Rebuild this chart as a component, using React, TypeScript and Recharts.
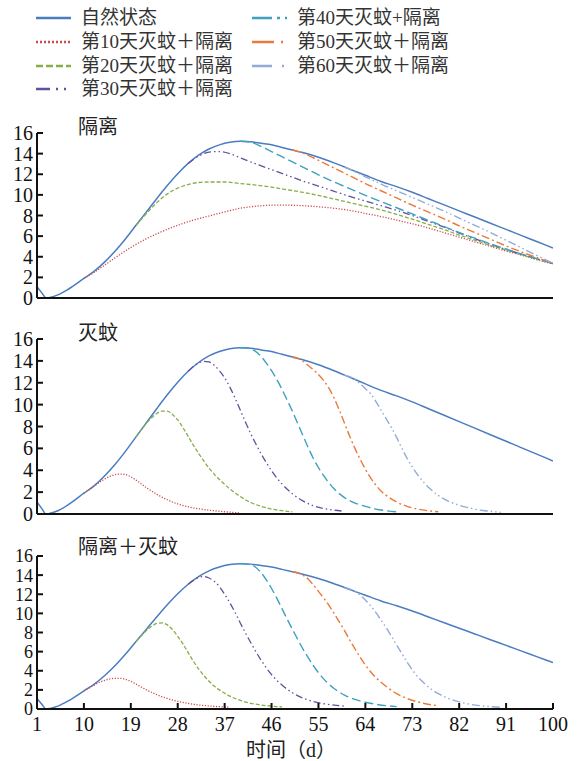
import React from 'react';
import { LineChart, Line, XAxis, YAxis } from 'recharts';

const xTicks = [1, 10, 19, 28, 37, 46, 55, 64, 73, 82, 91, 100];
const yTicks = [0, 2, 4, 6, 8, 10, 12, 14, 16];
const seriesNames = ['自然状态', '第10天灭蚊＋隔离', '第20天灭蚊＋隔离', '第30天灭蚊＋隔离', '第40天灭蚊+隔离', '第50天灭蚊＋隔离', '第60天灭蚊＋隔离'];
const panelTitles = ['隔离', '灭蚊', '隔离＋灭蚊'];
const xLabel = '时间（d）';

type Pt = [number, number];

// natural state, shared by all three panels  [day, value]
const natural: Pt[] = [
  [1, 1.1], [2, 0.45], [2.7, 0], [3.5, 0.06], [5, 0.3], [7, 0.85], [10, 1.9], [12, 2.6], [14, 3.5], [16, 4.55],
  [18, 5.75], [20, 7.05], [22, 8.35], [24, 9.65], [26, 10.9], [28, 12.05], [30, 13.05], [32, 13.85], [34, 14.45],
  [36, 14.85], [38, 15.1], [40, 15.2], [42, 15.15], [44, 15.0], [46, 14.85], [48, 14.6], [50, 14.35], [52, 14.1],
  [55, 13.65], [58, 13.1], [61, 12.5], [64, 11.9], [67, 11.3], [70, 10.8], [73, 10.25], [76, 9.65], [79, 9.05],
  [82, 8.45], [85, 7.85], [88, 7.25], [91, 6.65], [94, 6.05], [97, 5.45], [100, 4.85],
];

// panel 1: isolation
const iso10: Pt[] = [
  [10, 1.9], [12, 2.5], [14, 3.2], [16, 3.9], [19, 4.9], [22, 5.75], [25, 6.45], [28, 7.05], [31, 7.55], [34, 7.95],
  [37, 8.35], [40, 8.7], [43, 8.9], [46, 9.0], [49, 9.0], [52, 8.95], [55, 8.85], [58, 8.7], [61, 8.5], [64, 8.2],
  [67, 7.9], [70, 7.55], [73, 7.2], [76, 6.8], [79, 6.35], [82, 5.9], [85, 5.45], [88, 5.0], [91, 4.55], [94, 4.15],
  [97, 3.7], [100, 3.3],
];
const iso20: Pt[] = [
  [20, 7.05], [22, 8.2], [24, 9.25], [26, 10.1], [28, 10.65], [30, 11.0], [32, 11.2], [34, 11.25], [37, 11.25],
  [40, 11.1], [43, 10.95], [46, 10.75], [49, 10.5], [52, 10.25], [55, 9.95], [58, 9.6], [61, 9.25], [64, 8.9],
  [67, 8.55], [70, 8.1], [73, 7.65], [76, 7.15], [79, 6.65], [82, 6.1], [85, 5.6], [88, 5.1], [91, 4.65], [94, 4.2],
  [97, 3.75], [100, 3.35],
];
const iso30: Pt[] = [
  [30, 13.05], [32, 13.75], [34, 14.15], [36, 14.2], [38, 14.0], [40, 13.6], [43, 13.0], [46, 12.45], [49, 11.9],
  [52, 11.35], [55, 10.85], [58, 10.35], [61, 9.85], [64, 9.4], [67, 8.95], [70, 8.5], [73, 8.0], [76, 7.45],
  [79, 6.9], [82, 6.3], [85, 5.75], [88, 5.2], [91, 4.7], [94, 4.25], [97, 3.8], [100, 3.35],
];
const iso40: Pt[] = [
  [40, 15.2], [42, 15.1], [44, 14.7], [46, 14.2], [48, 13.7], [50, 13.2], [52, 12.7], [55, 11.95], [58, 11.25],
  [61, 10.6], [64, 9.95], [67, 9.35], [70, 8.75], [73, 8.15], [76, 7.55], [79, 6.95], [82, 6.35], [85, 5.8],
  [88, 5.25], [91, 4.75], [94, 4.25], [97, 3.8], [100, 3.35],
];
const iso50: Pt[] = [
  [50, 14.35], [52, 14.05], [54, 13.6], [56, 13.1], [58, 12.6], [61, 11.85], [64, 11.1], [67, 10.4], [70, 9.7],
  [73, 9.0], [76, 8.35], [79, 7.7], [82, 7.0], [85, 6.35], [88, 5.7], [91, 5.05], [94, 4.45], [97, 3.9], [100, 3.35],
];
const iso60: Pt[] = [
  [60, 12.7], [62, 12.25], [64, 11.75], [67, 11.05], [70, 10.4], [73, 9.75], [76, 9.1], [79, 8.45], [82, 7.75],
  [85, 7.05], [88, 6.35], [91, 5.6], [94, 4.85], [97, 4.1], [100, 3.35],
];

// panel 2: mosquito control
const mos10: Pt[] = [
  [10, 1.9], [12, 2.55], [13, 2.9], [14, 3.2], [15, 3.45], [16, 3.6], [17, 3.65], [18, 3.6], [19, 3.4], [20, 3.1],
  [22, 2.4], [24, 1.8], [26, 1.3], [28, 0.92], [30, 0.66], [32, 0.48], [34, 0.35], [36, 0.25], [38, 0.17], [40, 0.1],
];
const mos20: Pt[] = [
  [20, 7.05], [21, 7.7], [22, 8.3], [23, 8.8], [24, 9.2], [25, 9.4], [26, 9.4], [27, 9.1], [28, 8.6], [29, 7.9],
  [30, 7.1], [31, 6.3], [32, 5.55], [33, 4.85], [34, 4.2], [35, 3.65], [36, 3.15], [38, 2.3], [40, 1.6], [42, 1.05],
  [44, 0.7], [46, 0.45], [48, 0.3], [50, 0.2],
];
const mos30: Pt[] = [
  [30, 13.05], [31, 13.5], [32, 13.8], [33, 13.95], [34, 13.9], [35, 13.6], [36, 13.1], [37, 12.45], [38, 11.6],
  [39, 10.6], [40, 9.5], [41, 8.4], [42, 7.35], [43, 6.4], [44, 5.5], [45, 4.7], [46, 3.95], [47, 3.3], [48, 2.75],
  [50, 1.85], [52, 1.2], [54, 0.75], [56, 0.5], [58, 0.35], [60, 0.25],
];
const mos40: Pt[] = [
  [40, 15.2], [41, 15.2], [42, 15.1], [43, 14.85], [44, 14.4], [45, 13.8], [46, 13.1], [47, 12.3], [48, 11.4],
  [49, 10.4], [50, 9.4], [51, 8.3], [52, 7.2], [53, 6.1], [54, 5.1], [55, 4.25], [56, 3.5], [57, 2.85], [58, 2.3],
  [60, 1.5], [62, 1.0], [64, 0.7], [66, 0.45], [68, 0.3], [70, 0.2],
];
const mos50: Pt[] = [
  [50, 14.35], [51, 14.25], [52, 14.0], [53, 13.6], [54, 13.2], [55, 12.75], [56, 12.2], [57, 11.5], [58, 10.6],
  [59, 9.5], [60, 8.3], [61, 7.1], [62, 6.0], [63, 5.0], [64, 4.1], [65, 3.3], [66, 2.65], [67, 2.1], [68, 1.7],
  [70, 1.1], [72, 0.7], [74, 0.45], [76, 0.3], [78, 0.2],
];
const mos60: Pt[] = [
  [60, 12.7], [62, 12.3], [63, 11.9], [64, 11.45], [65, 11.0], [66, 10.3], [67, 9.5], [68, 8.7], [69, 7.9], [70, 7.0],
  [71, 6.0], [72, 5.1], [73, 4.3], [74, 3.6], [75, 3.0], [76, 2.5], [78, 1.7], [80, 1.15], [82, 0.8], [84, 0.55],
  [86, 0.35], [88, 0.25], [90, 0.15],
];

// panel 3: isolation + mosquito control
const both10: Pt[] = [
  [10, 1.9], [11, 2.2], [12, 2.5], [13, 2.8], [14, 3.0], [15, 3.15], [16, 3.2], [17, 3.2], [18, 3.1], [19, 2.9],
  [20, 2.6], [22, 2.0], [24, 1.5], [26, 1.1], [28, 0.8], [30, 0.58], [32, 0.42], [34, 0.32], [36, 0.24], [38, 0.18],
];
const both20: Pt[] = [
  [20, 7.05], [21, 7.65], [22, 8.2], [23, 8.65], [24, 8.95], [25, 9.0], [26, 8.8], [27, 8.3], [28, 7.6], [29, 6.8],
  [30, 5.9], [31, 5.0], [32, 4.2], [33, 3.5], [34, 2.9], [35, 2.4], [36, 2.0], [38, 1.35], [40, 0.9], [42, 0.6],
  [44, 0.42], [46, 0.3], [48, 0.22],
];
const both30: Pt[] = [
  [30, 13.05], [31, 13.45], [32, 13.75], [33, 13.85], [34, 13.7], [35, 13.35], [36, 12.8], [37, 12.0], [38, 11.1],
  [39, 10.1], [40, 9.0], [41, 7.95], [42, 6.95], [43, 6.0], [44, 5.1], [45, 4.3], [46, 3.6], [47, 3.0], [48, 2.5],
  [50, 1.7], [52, 1.15], [54, 0.78], [56, 0.55], [58, 0.4], [60, 0.3],
];
const both40: Pt[] = [
  [40, 15.2], [42, 15.1], [43, 14.8], [44, 14.25], [45, 13.5], [46, 12.6], [47, 11.6], [48, 10.5], [49, 9.4],
  [50, 8.35], [51, 7.3], [52, 6.3], [53, 5.4], [54, 4.55], [55, 3.8], [56, 3.15], [57, 2.6], [58, 2.15], [60, 1.45],
  [62, 1.0], [64, 0.7], [66, 0.5], [68, 0.35], [70, 0.25],
];
const both50: Pt[] = [
  [50, 14.35], [51, 14.25], [52, 14.0], [53, 13.6], [54, 13.0], [55, 12.3], [56, 11.6], [57, 10.85], [58, 10.0],
  [59, 9.1], [60, 8.2], [61, 7.2], [62, 6.3], [63, 5.4], [64, 4.6], [65, 3.9], [66, 3.3], [67, 2.8], [68, 2.35],
  [70, 1.6], [72, 1.1], [74, 0.75], [76, 0.5], [78, 0.35],
];
const both60: Pt[] = [
  [60, 12.7], [62, 12.3], [63, 11.9], [64, 11.4], [65, 10.8], [66, 10.1], [67, 9.3], [68, 8.5], [69, 7.6], [70, 6.7],
  [71, 5.8], [72, 4.9], [73, 4.1], [74, 3.4], [75, 2.85], [76, 2.35], [78, 1.6], [80, 1.1], [82, 0.75], [84, 0.5],
  [86, 0.35], [88, 0.25], [90, 0.18],
];

// line look per series (natural, day10 ... day60)
const styles = [
  { color: '#4a7cc0', dash: undefined, width: 1.5, legendDash: undefined },
  { color: '#cc4a4f', dash: '1.2 1.6', width: 1.3, legendDash: '2 2' },
  { color: '#86ae48', dash: '4 2', width: 1.3, legendDash: '7 3' },
  { color: '#62509e', dash: '7 3 1.5 3 1.5 3', width: 1.3, legendDash: '14 6 2 6 2 6' },
  { color: '#3ea1bd', dash: '9 4', width: 1.4, legendDash: '20 5 3 5 2 40' },
  { color: '#ea7a3a', dash: '8 3 2 3', width: 1.4, legendDash: '22 7 2 40' },
  { color: '#92acd8', dash: '8 3 1.5 3 1.5 3', width: 1.4, legendDash: '20 10 2 40' },
];

const fontSerif = '"Liberation Serif", "Noto Sans CJK SC", serif';

const panels = [
  { title: panelTitles[0], series: [natural, iso10, iso20, iso30, iso40, iso50, iso60], top: 120, plotH: 165, titleTop: 116, labels: false, yFont: 20 },
  { title: panelTitles[1], series: [natural, mos10, mos20, mos30, mos40, mos50, mos60], top: 326, plotH: 175, titleTop: 322, labels: false, yFont: 20 },
  { title: panelTitles[2], series: [natural, both10, both20, both30, both40, both50, both60], top: 543, plotH: 153, titleTop: 536, labels: true, yFont: 18 },
];

const toPoints = (s: Pt[]) => s.map(([x, y]) => ({ x, y }));

function Panel({ p }: { p: typeof panels[number] }) {
  const xh = p.labels ? 30 : 10;
  const axisStyle = { stroke: '#111', strokeWidth: 2 };
  return (
    <>
      <div style={{ position: 'absolute', left: 0, top: p.top, fontFamily: fontSerif }}>
        <LineChart width={579} height={13 + p.plotH + xh} margin={{ top: 13, right: 26, bottom: 0, left: 0 }}>
          <XAxis
            type="number"
            dataKey="x"
            domain={[1, 100]}
            ticks={xTicks}
            interval={0}
            allowDataOverflow
            height={xh}
            tickSize={-6}
            tickMargin={p.labels ? 14 : 0}
            axisLine={axisStyle}
            tickLine={axisStyle}
            tick={p.labels ? { fontSize: 20, fill: '#111', fontFamily: fontSerif } : false}
          />
          <YAxis
            type="number"
            domain={[0, 16]}
            ticks={yTicks}
            interval={0}
            width={37}
            tickSize={-6}
            tickMargin={10}
            axisLine={axisStyle}
            tickLine={axisStyle}
            tick={{ fontSize: p.yFont, fill: '#111', fontFamily: fontSerif }}
          />
          {p.series.map((s, i) => (
            <Line
              key={i}
              data={toPoints(s)}
              dataKey="y"
              type="monotone"
              stroke={styles[i].color}
              strokeWidth={styles[i].width}
              strokeDasharray={styles[i].dash}
              dot={false}
              activeDot={false}
              isAnimationActive={false}
            />
          ))}
        </LineChart>
      </div>
      <div style={{ position: 'absolute', left: 78, top: p.titleTop, fontSize: 20, lineHeight: '22px', fontFamily: fontSerif, color: '#222' }}>
        {p.title}
      </div>
    </>
  );
}

function LegendItem({ i, left, top }: { i: number; left: number; top: number }) {
  const st = styles[i];
  return (
    <div style={{ position: 'absolute', left, top, height: 22, display: 'flex', alignItems: 'center' }}>
      <svg width={38} height={6} style={{ marginRight: 8 }}>
        <line x1={1} y1={3} x2={36} y2={3} stroke={st.color} strokeWidth={2.6} strokeDasharray={st.legendDash} />
      </svg>
      <span style={{ fontSize: 19, lineHeight: '20px', fontFamily: fontSerif, color: '#333', whiteSpace: 'nowrap' }}>{seriesNames[i]}</span>
    </div>
  );
}

export default function App() {
  return (
    <div style={{ position: 'absolute', left: 0, top: 0, width: 579, height: 761, background: '#fff', fontFamily: fontSerif }}>
      <LegendItem i={0} left={35} top={7} />
      <LegendItem i={1} left={35} top={31} />
      <LegendItem i={2} left={35} top={55} />
      <LegendItem i={3} left={35} top={78} />
      <LegendItem i={4} left={251} top={7} />
      <LegendItem i={5} left={251} top={31} />
      <LegendItem i={6} left={251} top={55} />
      {panels.map((p, k) => (
        <Panel key={k} p={p} />
      ))}
      <div style={{ position: 'absolute', left: 246, top: 740, fontSize: 20, lineHeight: '20px', fontFamily: fontSerif, color: '#222', whiteSpace: 'nowrap' }}>
        {xLabel}
      </div>
    </div>
  );
}
